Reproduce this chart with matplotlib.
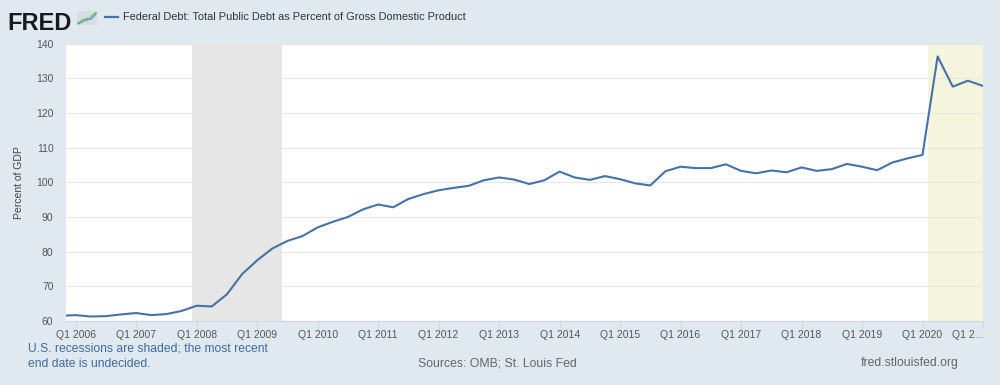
import matplotlib.pyplot as plt
from matplotlib.lines import Line2D
from matplotlib.patches import Rectangle
import pandas as pd

# quarterly observations, 2005Q4 .. 2021Q1 (percent of GDP)
first_q = '2005Q4'
last_q = '2021Q1'
debt_pct = [61.5,
            61.7, 61.3, 61.4, 61.9,
            62.3, 61.7, 62.0, 62.9,
            64.4, 64.2, 67.7, 73.5,
            77.5, 80.9, 83.1, 84.5,
            87.0, 88.6, 90.0, 92.2,
            93.6, 92.8, 95.2, 96.6,
            97.7, 98.4, 99.0, 100.6,
            101.4, 100.8, 99.5, 100.6,
            103.1, 101.4, 100.7, 101.8,
            100.9, 99.7, 99.1, 103.2,
            104.5, 104.1, 104.1, 105.2,
            103.3, 102.6, 103.4, 102.9,
            104.3, 103.3, 103.8, 105.3,
            104.5, 103.5, 105.7, 106.9,
            107.9, 136.3, 127.6, 129.3,
            127.8]

tick_years = list(range(2006, 2022))
tick_labels = ['Q1 %d' % y for y in range(2006, 2021)] + ['Q1 2...']
y_ticks = [60, 70, 80, 90, 100, 110, 120, 130, 140]

# recessions (start, end) as dates; last one still open
recessions = [('2007-12-01', '2009-06-01')]
open_recession = '2020-02-01'


def frac_year(ts):
    ts = pd.Timestamp(ts)
    return ts.year + (ts.dayofyear - 1) / (366 if ts.is_leap_year else 365)


quarters = pd.period_range(first_q, last_q, freq='Q')
x = [q.year + (q.quarter - 1) / 4 for q in quarters]

plt.rcParams['font.family'] = ['Liberation Sans', 'DejaVu Sans']
bg = '#e1e9f0'
blue = '#4572a7'

fig = plt.figure(figsize=(10, 3.85), dpi=100, facecolor=bg)
ax = fig.add_axes([0.066, 0.1662, 0.917, 0.7205])
ax.set_facecolor('white')

xmin, xmax = 2005.84, 2021.0
for s, e in recessions:
    ax.axvspan(frac_year(s), frac_year(e), color='#e6e6e6', lw=0, zorder=0)
ax.axvspan(frac_year(open_recession), xmax + 1, color='#f5f4dc', lw=0, zorder=0)

ax.plot(x, debt_pct, color=blue, lw=1.5, zorder=3, solid_joinstyle='round')

ax.set_xlim(xmin, xmax)
ax.set_ylim(60, 140)
ax.set_yticks(y_ticks)
ax.set_yticklabels([str(v) for v in y_ticks])
ax.set_xticks(tick_years)
ax.set_xticklabels(tick_labels)
ax.get_xticklabels()[-1].set_horizontalalignment('right')
ax.grid(axis='y', color='#e6e6e6', lw=0.8, zorder=1)
ax.set_axisbelow(False)

for side in ['top', 'right', 'left']:
    ax.spines[side].set_visible(False)
ax.spines['bottom'].set_color('#ccd6eb')
ax.spines['bottom'].set_linewidth(0.8)
ax.tick_params(axis='y', length=0, pad=9, labelsize=7.5, labelcolor='#555555')
ax.tick_params(axis='x', length=5.5, width=0.8, color='#ccd6eb', pad=0.8,
               labelsize=7.5, labelcolor='#555555')

ax.set_ylabel('Percent of GDP', fontsize=7.5, color='#444444')
ax.yaxis.set_label_coords(-0.0455, 0.5)

# header: logo + legend
fig.text(0.007, 0.969, 'FRED', fontsize=17, fontweight='heavy', color='#1a1a1a',
         va='top', ha='left')
fig.add_artist(Rectangle((0.077, 0.935), 0.020, 0.037, transform=fig.transFigure,
                         facecolor='#d5dde5', edgecolor='none'))
icon_x = [0.078, 0.083, 0.087, 0.091, 0.096]
fig.add_artist(Line2D(icon_x, [0.940, 0.950, 0.946, 0.957, 0.968],
                      transform=fig.transFigure, color='#8dc63f', lw=1))
fig.add_artist(Line2D(icon_x, [0.938, 0.944, 0.952, 0.950, 0.964],
                      transform=fig.transFigure, color='#5b9bd5', lw=1))
fig.add_artist(Line2D([0.105, 0.118], [0.956, 0.956], transform=fig.transFigure,
                      color=blue, lw=1.6))
fig.text(0.123, 0.956, 'Federal Debt: Total Public Debt as Percent of Gross Domestic Product',
         fontsize=7.9, color='#333333', va='center', ha='left')

# footer
fig.text(0.028, 0.094, 'U.S. recessions are shaded; the most recent',
         fontsize=8.7, color='#3d6aa2', va='center', ha='left')
fig.text(0.028, 0.054, 'end date is undecided.',
         fontsize=8.7, color='#3d6aa2', va='center', ha='left')
fig.text(0.418, 0.056, 'Sources: OMB; St. Louis Fed',
         fontsize=8.8, color='#666666', va='center', ha='left')
fig.text(0.861, 0.056, 'fred.stlouisfed.org',
         fontsize=8.8, color='#666666', va='center', ha='left')

fig.savefig('out.png', dpi=100, facecolor=bg)
